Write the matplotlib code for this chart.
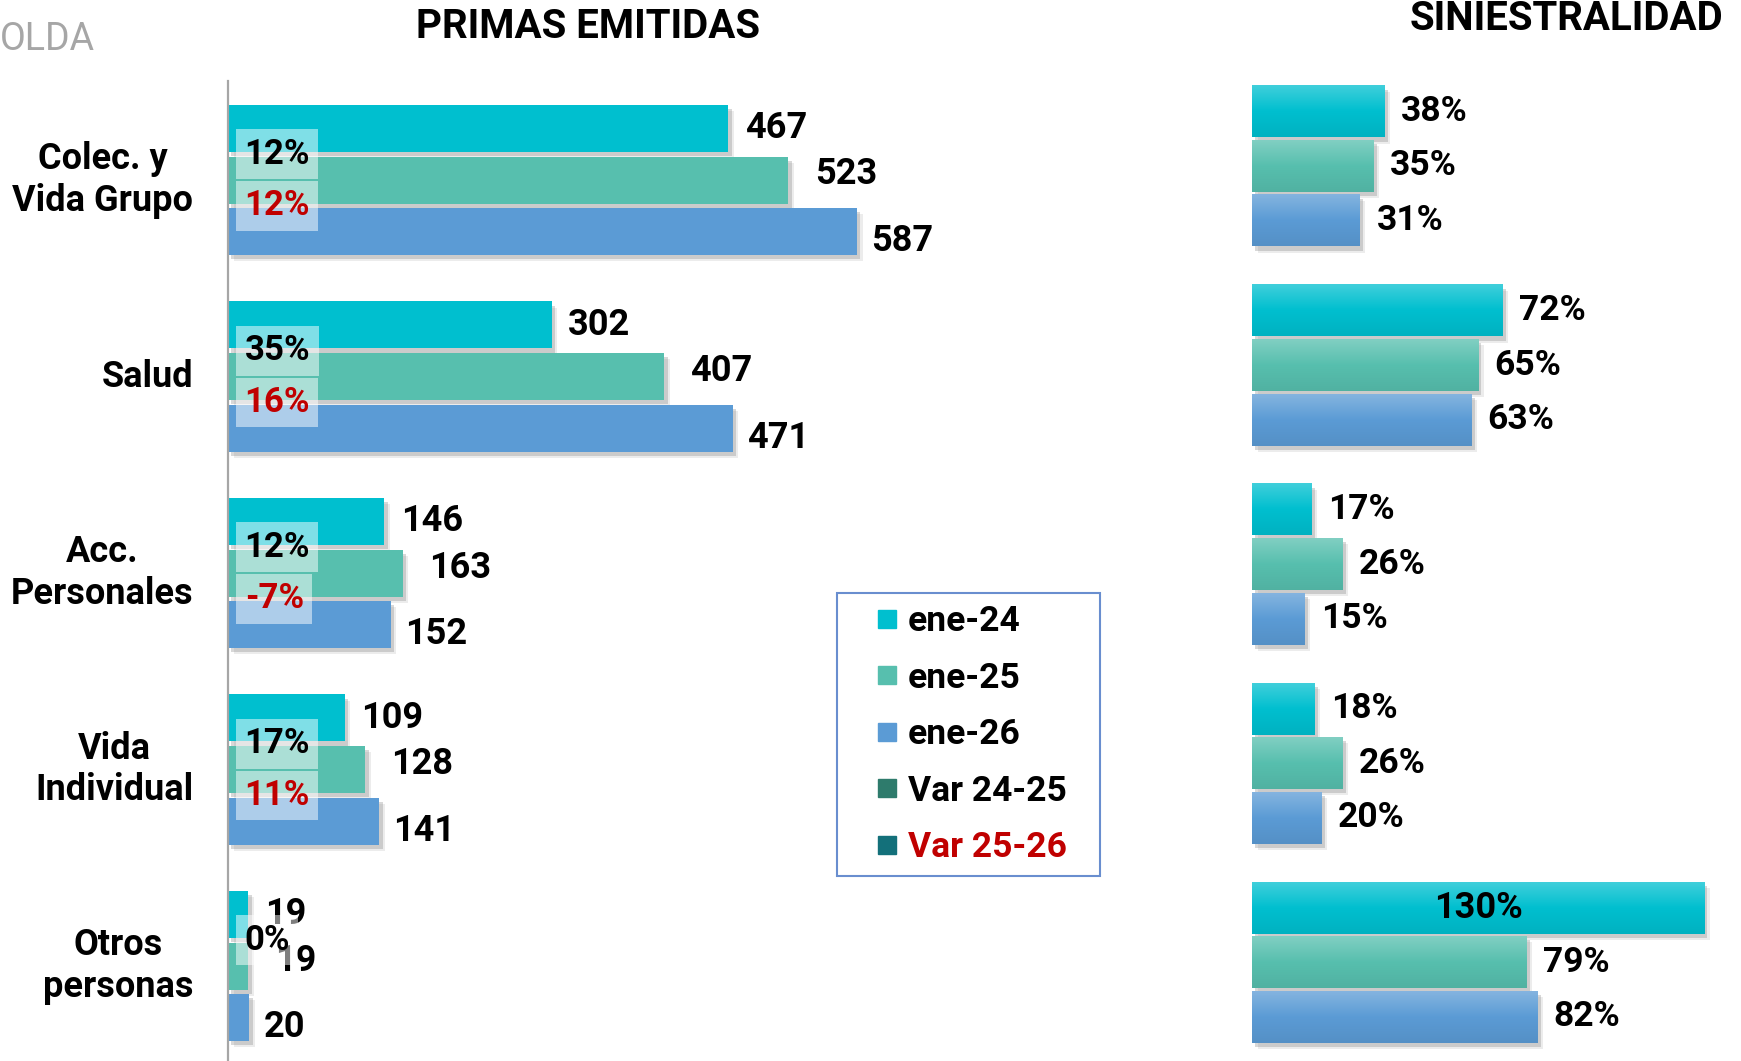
import numpy as np
import matplotlib
matplotlib.use("Agg")
import matplotlib.pyplot as plt
import matplotlib.patheffects as pe
from matplotlib.lines import Line2D
from matplotlib.colors import to_rgb

plt.rcParams['font.family'] = ['Roboto', 'DejaVu Sans']

# ---------------- data ----------------
categories = ["Colec. y\nVida Grupo", "Salud", "Acc.\nPersonales", "Vida\nIndividual", "Otros\npersonas"]
series_names = ["ene-24", "ene-25", "ene-26"]
primas_24 = [467, 302, 146, 109, 19]
primas_25 = [523, 407, 163, 128, 19]
primas_26 = [587, 471, 152, 141, 20]
var_24_25 = [12, 35, 12, 17, 0]
var_25_26 = [12, 16, -7, 11, None]
sini_24 = [38, 72, 17, 18, 130]
sini_25 = [35, 65, 26, 26, 79]
sini_26 = [31, 63, 15, 20, 82]

colors = ["#00BFCF", "#57BFAE", "#5B9BD5"]
var_colors = ["#2E7B6C", "#13707A"]
RED = "#C00000"

W, H = 1741, 1061
fig = plt.figure(figsize=(W / 100, H / 100), dpi=100)

shadow = [pe.SimplePatchShadow(offset=(4, -4.5), shadow_rgbFace="#808080", alpha=0.15),
          pe.SimplePatchShadow(offset=(2.5, -3), shadow_rgbFace="#808080", alpha=0.3),
          pe.Normal()]

# ---------------- left panel: primas ----------------
axL = fig.add_axes([228 / W, 0, (1100 - 228) / W, (H - 81) / H])
axL.set_xlim(0, 872 / 1.0715)
axL.set_ylim(4.483, -0.504)
for s in ["top", "right", "bottom"]:
    axL.spines[s].set_visible(False)
axL.spines["left"].set_color("#A6A6A6")
axL.spines["left"].set_linewidth(1.6)
axL.set_xticks([])
axL.set_yticks([])

idx = np.arange(len(categories))
stepL, hL = 0.2626, 0.239
primas = [primas_24, primas_25, primas_26]
label_dx = [12, 19, 10]
label_dy = [0, 4, -7]
for k, vals in enumerate(primas):
    ys = idx + (k - 1) * stepL
    bars = axL.barh(ys, vals, height=hL, color=colors[k], zorder=2)
    for b in bars:
        b.set_path_effects(shadow)
    for y, v in zip(ys, vals):
        axL.annotate(f"{v}", xy=(v, y), xytext=(label_dx[k], label_dy[k]), textcoords="offset points",
                     ha="left", va="center", fontsize=26, fontweight="bold", color="black", zorder=3,
                     annotation_clip=False)

box = dict(facecolor="white", alpha=0.5, edgecolor="none", pad=6)
for i in idx:
    axL.annotate(f"{var_24_25[i]}%", xy=(0, i - stepL / 2), xytext=(12, 0), textcoords="offset points",
                 ha="left", va="center", fontsize=25, fontweight="bold", color="black",
                 bbox=box, zorder=5)
    if var_25_26[i] is not None:
        axL.annotate(f"{var_25_26[i]}%", xy=(0, i + stepL / 2), xytext=(12, 0), textcoords="offset points",
                     ha="left", va="center", fontsize=25, fontweight="bold", color=RED,
                     bbox=box, zorder=5)

for i, c in enumerate(categories):
    axL.annotate(c, xy=(0, i), xytext=(-25, 0), textcoords="offset points", ha="right", va="center",
                 multialignment="center", fontsize=26, fontweight="bold", linespacing=1.2,
                 annotation_clip=False)

# ---------------- right panel: siniestralidad ----------------
axR = fig.add_axes([1252 / W, 0, (W - 1252) / W, 1])
xlimR = (0, (W - 1252) / 3.477)
ylimR = (4.497, -0.834)
axR.set_xlim(*xlimR)
axR.set_ylim(*ylimR)
axR.axis("off")

stepR, hR = 0.274, 0.261
sini = [sini_24, sini_25, sini_26]


def gradient(base, n=64):
    b = np.array(to_rgb(base))
    top = b + (1 - b) * 0.25
    bot = b * 0.93
    t = np.linspace(0, 1, n)
    arr = np.empty((n, 1, 3))
    for j, tt in enumerate(t):
        if tt < 0.5:
            arr[j, 0] = top + (b - top) * (tt / 0.5)
        else:
            arr[j, 0] = b + (bot - b) * ((tt - 0.5) / 0.5)
    return np.clip(arr, 0, 1)


for k, vals in enumerate(sini):
    ys = idx + (k - 1) * stepR
    bars = axR.barh(ys, vals, height=hR, color=colors[k], zorder=2)
    g = gradient(colors[k])
    for b, y, v in zip(bars, ys, vals):
        b.set_path_effects(shadow)
        axR.imshow(g, extent=(0, v, y + hR / 2, y - hR / 2), aspect="auto", zorder=3,
                   interpolation="bilinear")
        if v > 100:
            axR.text(v / 2, y, f"{v}%", ha="center", va="center", fontsize=26, fontweight="bold", zorder=4)
        else:
            axR.annotate(f"{v}%", xy=(v, y), xytext=(12, 0), textcoords="offset points",
                         ha="left", va="center", fontsize=25.5, fontweight="bold", zorder=4)
axR.set_xlim(*xlimR)
axR.set_ylim(*ylimR)

# ---------------- titles ----------------
fig.text(588 / W, 1 - 27 / H, "PRIMAS EMITIDAS", ha="center", va="center", fontsize=29, fontweight="bold")
fig.text(1410 / W, 1 - 19 / H, "SINIESTRALIDAD", ha="left", va="center", fontsize=29, fontweight="bold")
fig.text(0 / W, 1 - 40 / H, "OLDA", ha="left", va="center", fontsize=27, color="#A6A6A6")

# ---------------- legend ----------------
handles = [Line2D([], [], marker="s", linestyle="none", markersize=13, color=c)
           for c in colors + var_colors]
labels = series_names + ["Var 24-25", "Var 25-26"]
leg = fig.legend(handles, labels, loc="upper left",
                 bbox_to_anchor=(837 / W, (H - 874) / H, 263 / W, 281 / H), mode="expand",
                 borderaxespad=0, prop={"weight": "bold", "size": 25.5},
                 frameon=True, fancybox=False, borderpad=0.35, labelspacing=0.66,
                 handlelength=2.1, handletextpad=-0.45)
leg.get_frame().set_edgecolor("#4472C4")
leg.get_frame().set_linewidth(1.5)
leg.get_texts()[-1].set_color(RED)

fig.savefig("out.png", dpi=100)
